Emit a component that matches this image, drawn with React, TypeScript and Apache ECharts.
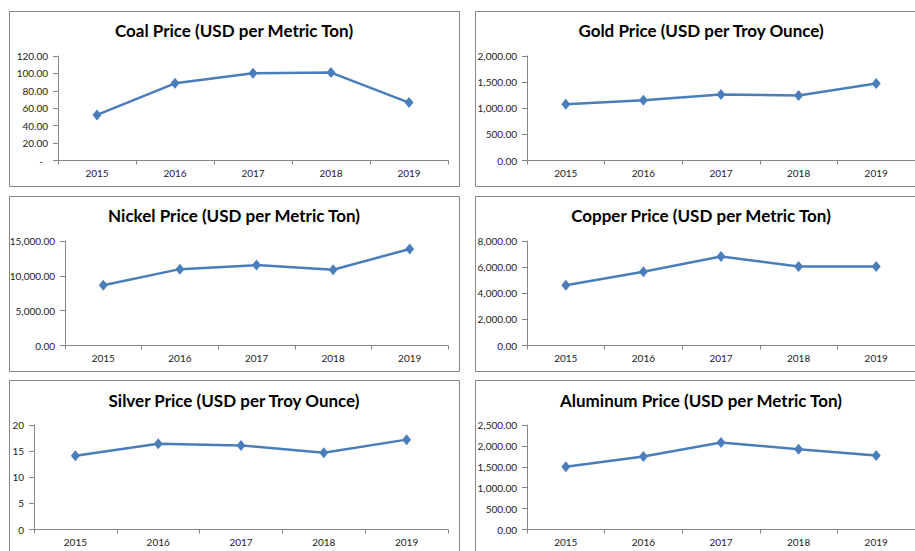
import React, { useEffect, useRef } from "react";
import * as echarts from "echarts";

const years = ["2015", "2016", "2017", "2018", "2019"];
const coalPrices = [52.3, 88.6, 100.3, 101, 66.5];
const goldPrices = [1077, 1155, 1263, 1245, 1474];
const nickelPrices = [8650, 10960, 11540, 10870, 13860];
const copperPrices = [4620, 5640, 6820, 6050, 6050];
const silverPrices = [14.1, 16.4, 16.1, 14.7, 17.2];
const aluminumPrices = [1500, 1745, 2080, 1920, 1770];

const titles = [
  "Coal Price (USD per Metric Ton)",
  "Gold Price (USD per Troy Ounce)",
  "Nickel Price (USD per Metric Ton)",
  "Copper Price (USD per Metric Ton)",
  "Silver Price (USD per Troy Ounce)",
  "Aluminum Price (USD per Metric Ton)",
];
const axisMax = [120, 2000, 15000, 8000, 20, 2500];
const axisInterval = [20, 500, 5000, 2000, 5, 500];

const seriesData = [coalPrices, goldPrices, nickelPrices, copperPrices, silverPrices, aluminumPrices];

// layout (px)
const panels = [
  { x: 9.5, y: 11.5, gl: 58, gt: 56, gw: 390, tx: 234, ty: 32 },
  { x: 475.5, y: 11.5, gl: 527, gt: 56, gw: 391, tx: 701, ty: 32 },
  { x: 9.5, y: 196.5, gl: 65, gt: 241, gw: 383, tx: 234, ty: 217 },
  { x: 475.5, y: 196.5, gl: 527, gt: 241, gw: 391, tx: 701, ty: 217 },
  { x: 9.5, y: 380.5, gl: 34, gt: 425, gw: 414, tx: 234, ty: 402 },
  { x: 475.5, y: 380.5, gl: 527, gt: 425, gw: 391, tx: 701, ty: 402 },
];
const PANEL_W = 450;
const PANEL_H = 175;
const GRID_H = 104.5;

const FONT = "Lato, 'Noto Sans', sans-serif";
const LINE = "#4A7EBB";
const AXIS = "#868686";

function fmt(i: number) {
  return (v: number) => {
    if (i === 0) return v === 0 ? "{d|-}" : v.toFixed(2);
    if (i === 4) return String(v);
    return v.toLocaleString("en-US", { minimumFractionDigits: 2, maximumFractionDigits: 2 });
  };
}

export default function App() {
  const ref = useRef<HTMLDivElement>(null);
  useEffect(() => {
    if (!ref.current) return;
    const chart = echarts.init(ref.current, undefined, { renderer: "svg" });
    const option: any = {
      animation: false,
      backgroundColor: "#ffffff",
      graphic: panels.map((p) => ({
        type: "rect",
        z: -10,
        shape: { x: p.x, y: p.y, width: PANEL_W, height: PANEL_H },
        style: { fill: "#ffffff", stroke: AXIS, lineWidth: 1 },
      })),
      title: panels.map((p, i) => ({
        text: titles[i],
        left: p.tx,
        top: p.ty - 10,
        textAlign: "center",
        padding: 0,
        textStyle: { fontFamily: FONT, fontWeight: "bold", fontSize: 17, color: "#000000" },
      })),
      grid: panels.map((p) => ({ left: p.gl, top: p.gt, width: p.gw, height: GRID_H })),
      xAxis: panels.map((_, i) => ({
        type: "category",
        gridIndex: i,
        data: years,
        boundaryGap: true,
        axisLine: { lineStyle: { color: AXIS, width: 1 } },
        axisTick: { show: true, length: 4, lineStyle: { color: AXIS } },
        axisLabel: { fontFamily: FONT, fontSize: 10, color: "#222222", margin: 7 },
        splitLine: { show: false },
      })),
      yAxis: panels.map((_, i) => ({
        type: "value",
        gridIndex: i,
        min: 0,
        max: axisMax[i],
        interval: axisInterval[i],
        axisLine: { show: true, lineStyle: { color: AXIS, width: 1 } },
        axisTick: { show: true, length: 5, lineStyle: { color: AXIS } },
        axisLabel: {
          fontFamily: FONT,
          fontSize: 10,
          color: "#222222",
          margin: 10,
          formatter: fmt(i),
          rich: { d: { fontFamily: FONT, fontSize: 10, color: "#222222", padding: [0, 5, 0, 0] } },
        },
        splitLine: { show: false },
      })),
      series: seriesData.map((d, i) => ({
        type: "line",
        xAxisIndex: i,
        yAxisIndex: i,
        data: d,
        symbol: "diamond",
        symbolSize: [9, 11],
        lineStyle: { color: LINE, width: 2.5 },
        itemStyle: { color: LINE },
      })),
    };
    chart.setOption(option);
    return () => chart.dispose();
  }, []);
  return (
    <div
      ref={ref}
      style={{ position: "absolute", left: 0, top: 0, width: 915, height: 551, background: "#fff" }}
    />
  );
}
